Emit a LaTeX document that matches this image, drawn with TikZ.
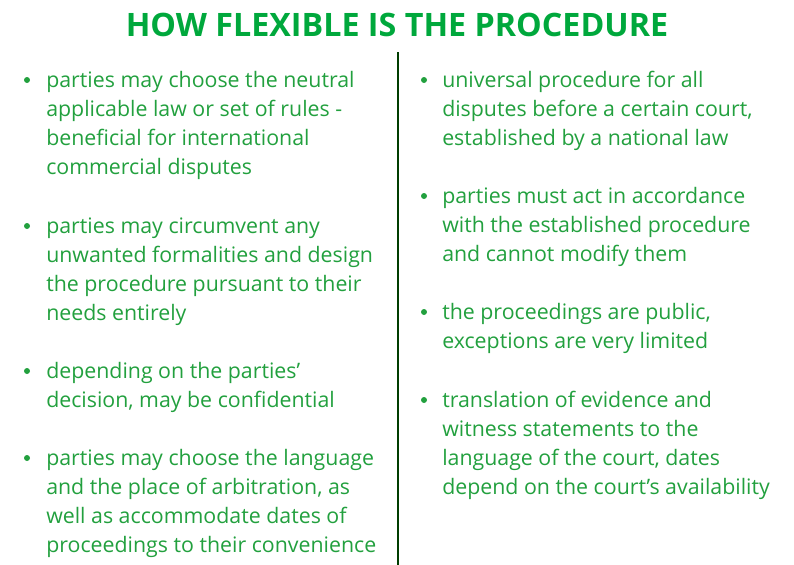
\documentclass[tikz,border=0pt]{standalone}
\usepackage{fontspec}
\setmainfont{Open Sans}
\definecolor{tg}{HTML}{00A83C}
\definecolor{bg}{HTML}{22A03E}
\begin{document}
\begin{tikzpicture}[x=0.75pt,y=-0.75pt,
  ln/.style={anchor=base west,inner sep=0pt,text=bg,font=\fontsize{16}{19}\selectfont},
  bul/.style={circle,fill=bg,inner sep=0pt,minimum size=4.5pt}]
\useasboundingbox (0,0) rectangle (794,565);
\node[text=tg,font=\fontsize{24.2}{29}\bfseries\selectfont,inner sep=0pt] (title) at (397,25) {HOW FLEXIBLE IS THE PROCEDURE};
\coordinate (dt) at (398,52); \coordinate (db) at (398,565);
\draw[line width=1.5pt,color=black!60!green!60!black] (dt) -- (db);
\def\lines#1#2#3{\foreach \t [count=\i from 0] in {#3} {\node[ln] at (#1,{#2+7+29*\i}) {\t};}}
% left
\foreach \y in {80,226,371,458} {\node[bul] at (27,\y) {};}
\lines{46}{80}{parties may choose the neutral,applicable law or set of rules -,beneficial for international,commercial disputes}
\lines{46}{226}{parties may circumvent any,unwanted formalities and design,the procedure pursuant to their,needs entirely}
\lines{46}{371}{depending on the parties’,{decision, may be confidential}}
\lines{46}{458}{parties may choose the language,{and the place of arbitration, as},well as accommodate dates of,proceedings to their convenience}
% right
\foreach \y in {80,196,312,400} {\node[bul] at (424,\y) {};}
\lines{442}{80}{universal procedure for all,{disputes before a certain court,},established by a national law}
\lines{442}{196}{parties must act in accordance,with the established procedure,and cannot modify them}
\lines{442}{312}{{the proceedings are public,},exceptions are very limited}
\lines{442}{400}{translation of evidence and,witness statements to the,{language of the court, dates},depend on the court’s availability}
\end{tikzpicture}
\end{document}
